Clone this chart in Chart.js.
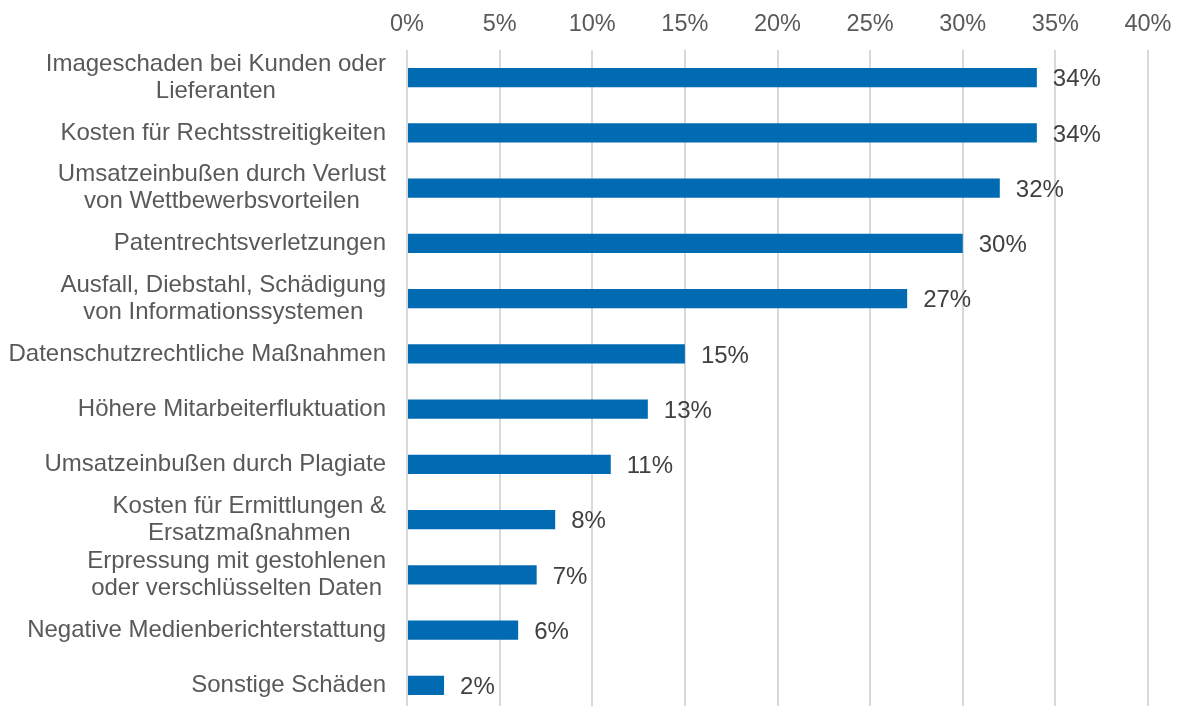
<!DOCTYPE html>
<html lang="de">
<head>
<meta charset="utf-8">
<script src="https://cdn.jsdelivr.net/npm/chart.js@4/dist/chart.umd.min.js"></script>
<style>
  html, body { margin: 0; padding: 0; background: #fff; overflow: hidden; }
  .wrap { position: relative; width: 1178px; height: 713px; }
</style>
</head>
<body>
<div class="wrap"><canvas id="barChart"></canvas></div>
<script>
// Daten aus der Grafik
const categories = [
    ['Imageschaden bei Kunden oder', 'Lieferanten'],
    ['Kosten für Rechtsstreitigkeiten'],
    ['Umsatzeinbußen durch Verlust', 'von Wettbewerbsvorteilen'],
    ['Patentrechtsverletzungen'],
    ['Ausfall, Diebstahl, Schädigung', 'von Informationssystemen'],
    ['Datenschutzrechtliche Maßnahmen'],
    ['Höhere Mitarbeiterfluktuation'],
    ['Umsatzeinbußen durch Plagiate'],
    ['Kosten für Ermittlungen &', 'Ersatzmaßnahmen'],
    ['Erpressung mit gestohlenen', 'oder verschlüsselten Daten'],
    ['Negative Medienberichterstattung'],
    ['Sonstige Schäden']
];
const shares = [34, 34, 32, 30, 27, 15, 13, 11, 8, 7, 6, 2];
const xTicks = [0, 5, 10, 15, 20, 25, 30, 35, 40];

const FONT = "'Liberation Sans', Arial, sans-serif";

// Kategorie-Beschriftungen: Zeilen zentriert, Block rechtsbündig
const categoryLabels = {
    id: 'categoryLabels',
    afterDraw(chart) {
        const ctx = chart.ctx;
        const y = chart.scales.y;
        const lineH = 27;
        ctx.save();
        ctx.font = '24px ' + FONT;
        ctx.fillStyle = '#595959';
        ctx.textBaseline = 'middle';
        ctx.textAlign = 'center';
        categories.forEach((lines, i) => {
            const cy = y.getPixelForValue(i);
            const w = Math.max(...lines.map(l => ctx.measureText(l).width));
            const cx = 386 - w / 2;
            lines.forEach((l, k) => {
                ctx.fillText(l, cx, cy + (k - (lines.length - 1) / 2) * lineH);
            });
        });
        ctx.restore();
    }
};

// Werte hinter den Balken
const valueLabels = {
    id: 'valueLabels',
    afterDatasetsDraw(chart) {
        const ctx = chart.ctx;
        const meta = chart.getDatasetMeta(0);
        ctx.save();
        ctx.font = '24px ' + FONT;
        ctx.fillStyle = '#404040';
        ctx.textBaseline = 'middle';
        ctx.textAlign = 'left';
        meta.data.forEach((bar, i) => {
            ctx.fillText(shares[i] + '%', bar.x + 16, bar.y + 2);
        });
        ctx.restore();
    }
};

new Chart(document.getElementById('barChart'), {
    type: 'bar',
    data: {
        labels: categories.map(c => c.join(' ')),
        datasets: [{
            data: shares,
            backgroundColor: '#006AB3',
            borderWidth: 0,
            categoryPercentage: 1,
            barPercentage: 0.345
        }]
    },
    options: {
        indexAxis: 'y',
        responsive: true,
        maintainAspectRatio: false,
        animation: false,
        layout: { padding: { left: 0, right: 30, top: 0, bottom: 0 } },
        plugins: { legend: { display: false }, tooltip: { enabled: false } },
        scales: {
            x: {
                position: 'top',
                min: 0,
                max: 40,
                afterBuildTicks: (s) => { s.ticks = xTicks.map(v => ({ value: v })); },
                afterFit: (s) => { s.height = 50; s.paddingLeft = 0; s.paddingRight = 0; },
                grid: { color: '#D9D9D9', lineWidth: 2, drawTicks: false },
                border: { display: false },
                ticks: {
                    color: '#595959',
                    font: { family: FONT, size: 23.5 },
                    padding: 11,
                    callback: (v) => v + '%'
                }
            },
            y: {
                afterFit: (s) => { s.width = 407; },
                grid: { display: false },
                border: { display: false },
                ticks: { display: false }
            }
        }
    },
    plugins: [categoryLabels, valueLabels]
});
</script>
</body>
</html>
